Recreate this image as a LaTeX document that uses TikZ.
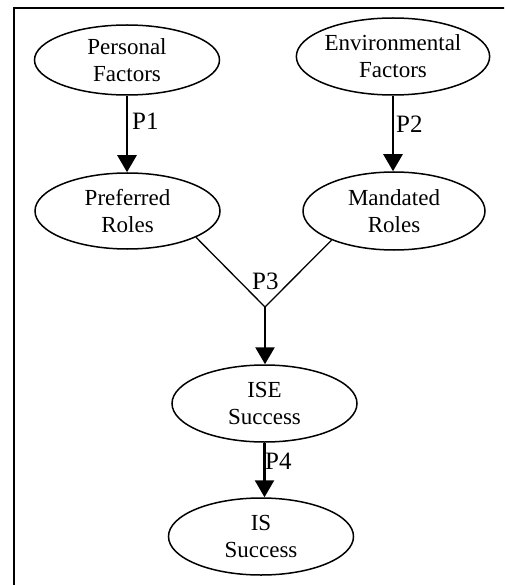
\documentclass[tikz,border=0pt]{standalone}
\usepackage{fontspec}
\setmainfont{Liberation Serif}
\usetikzlibrary{shapes.geometric,arrows.meta}
\begin{document}
\begin{tikzpicture}[x=1pt,y=-1pt,
  ell/.style={draw,ellipse,line width=1.5pt,minimum width=185pt,minimum height=77pt,inner sep=0pt,align=center,font=\fontsize{23}{27}\selectfont},
  arr/.style={line width=2.5pt,-{Triangle[width=19pt,length=17pt]}},
  yline/.style={line width=1.3pt},
  lab/.style={anchor=base west,inner sep=0pt,font=\fontsize{25}{30}\selectfont}]
\useasboundingbox (0,0) rectangle (504,585);
\clip (0,0) rectangle (504,585);
\draw[line width=1.5pt] (14,8) rectangle (540,620);
\node[ell,minimum height=70pt] (pf) at (127,60) {Personal\\Factors};
\node[ell] (ef) at (393,56.5) {Environmental\\Factors};
\node[ell,minimum height=76pt] (pr) at (127.5,211) {Preferred\\Roles};
\node[ell,minimum width=182pt,minimum height=78pt] (mr) at (394,211) {Mandated\\Roles};
\node[ell] (ise) at (264.5,403.5) {ISE\\Success};
\node[ell] (is) at (261,536.5) {IS\\Success};
\coordinate (v) at (265,307);
\draw[arr] (pf.south) -- (pf.south |- pr.north);
\draw[arr] (ef.south) -- (ef.south |- mr.north);
\draw[yline] (pr.-21) -- (v) -- (mr.-155);
\draw[arr] (v) -- (v |- ise.north);
\draw[arr] (ise.south) -- (ise.south |- is.north);
\node[lab] (p1) at (132,130) {P1};
\node[lab] (p2) at (396,133) {P2};
\node[lab] (p3) at (252,289) {P3};
\node[lab] (p4) at (265,469) {P4};
\end{tikzpicture}
\end{document}
